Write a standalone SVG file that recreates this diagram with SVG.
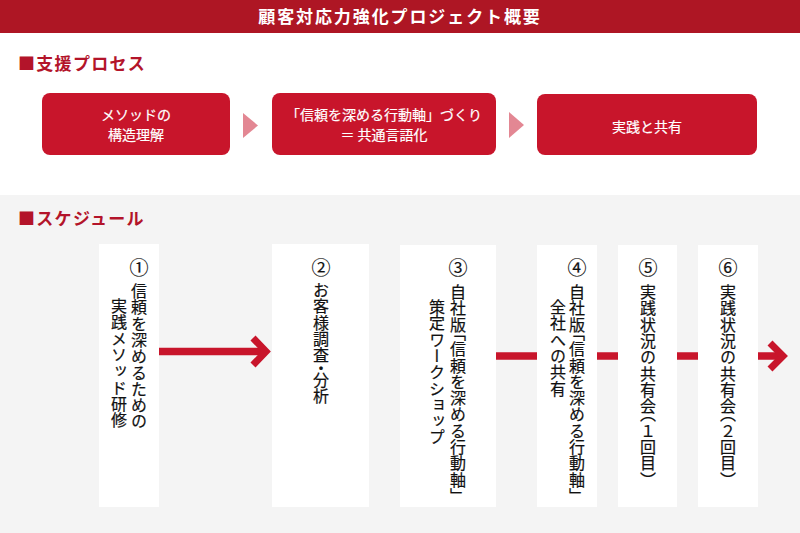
<svg xmlns="http://www.w3.org/2000/svg" width="800" height="533" viewBox="0 0 800 533">
<defs>
<style>
text{font-family:"Noto Sans CJK JP","Noto Sans",sans-serif;}
.title{font-size:17px;font-weight:bold;fill:#fff;letter-spacing:1.9px;}
.sec{font-size:17px;font-weight:bold;fill:#b3142a;letter-spacing:1.3px;}
.pbox{fill:#c8152b;}
.ptxt{font-size:14px;fill:#fff;text-anchor:middle;stroke:#fff;stroke-width:0.2px;}
.tri{fill:#e38793;}
.sbox{fill:#fff;}
.num{font-size:19px;fill:#111;text-anchor:middle;stroke:#111;stroke-width:0.2px;}
.v{font-size:16px;fill:#111;writing-mode:vertical-rl;letter-spacing:0.3px;stroke:#111;stroke-width:0.2px;}
.h{font-feature-settings:"vhal";}
.conn{stroke:#c8152b;stroke-width:7.5;fill:none;}
.head{stroke:#c8152b;stroke-width:7;fill:none;stroke-linejoin:miter;stroke-linecap:butt;}
</style>
</defs>
<rect x="0" y="0" width="800" height="533" fill="#fff"/>
<rect x="0" y="0" width="800" height="33" fill="#ae1624"/>
<text class="title" x="400" y="23" text-anchor="middle">顧客対応力強化プロジェクト概要</text>
<text class="sec" x="18" y="70">■支援プロセス</text>
<g id="process-1"><rect class="pbox" x="42" y="93" width="188" height="62" rx="8"/><text class="ptxt" x="136" y="120">メソッドの</text><text class="ptxt" x="136" y="140">構造理解</text></g>
<polygon class="tri" points="243,113 258,125.5 243,138"/>
<g id="process-2"><rect class="pbox" x="272" y="93" width="224" height="62" rx="8"/><text class="ptxt" x="384" y="120">「信頼を深める行動軸」づくり</text><text class="ptxt" x="384" y="140">＝ 共通言語化</text></g>
<polygon class="tri" points="509,112 524,125 509,138"/>
<g id="process-3"><rect class="pbox" x="537" y="94" width="220" height="61" rx="8"/><text class="ptxt" x="647" y="132">実践と共有</text></g>
<rect x="0" y="195" width="800" height="338" fill="#f4f4f4"/>
<text class="sec" x="18" y="225">■スケジュール</text>
<g id="step-1"><rect class="sbox" x="99" y="244" width="60" height="263"/><text class="num" x="139" y="275">①</text><text class="v" x="139" y="283">信頼を深めるための</text><text class="v" x="119" y="298">実践メソッド研修</text></g>
<g id="step-2"><rect class="sbox" x="272" y="244" width="97" height="263"/><text class="num" x="321" y="275">②</text><text class="v" x="321" y="282">お客様調査<tspan class="h">・</tspan>分析</text></g>
<g id="step-3"><rect class="sbox" x="400" y="245" width="96" height="262"/><text class="num" x="458" y="275">③</text><text class="v" x="458" y="284">自社版<tspan class="h">「</tspan>信頼を深める行動軸<tspan class="h">」</tspan></text><text class="v" x="437" y="299">策定ワークショップ</text></g>
<g id="step-4"><rect class="sbox" x="537" y="245" width="60" height="262"/><text class="num" x="577" y="275">④</text><text class="v" x="577" y="284">自社版<tspan class="h">「</tspan>信頼を深める行動軸<tspan class="h">」</tspan></text><text class="v" x="558" y="299">全社への共有</text></g>
<g id="step-5"><rect class="sbox" x="618" y="245" width="59" height="262"/><text class="num" x="648" y="275">⑤</text><text class="v" x="648" y="284">実践状況の共有会<tspan class="h">（</tspan>１回目<tspan class="h">）</tspan></text></g>
<g id="step-6"><rect class="sbox" x="698" y="245" width="60" height="262"/><text class="num" x="728" y="275">⑥</text><text class="v" x="728" y="284">実践状況の共有会<tspan class="h">（</tspan>２回目<tspan class="h">）</tspan></text></g>
<g id="connectors">
<line class="conn" x1="159" y1="351.5" x2="266" y2="351.5"/>
<polyline class="head" points="253,338 266,351.5 253,365"/>
<line class="conn" x1="496" y1="356" x2="537" y2="356"/>
<line class="conn" x1="597" y1="356" x2="618" y2="356"/>
<line class="conn" x1="677" y1="356" x2="698" y2="356"/>
<line class="conn" x1="758" y1="356" x2="783" y2="356"/>
<polyline class="head" points="770,343 783,356 770,369"/>
</g>
</svg>
